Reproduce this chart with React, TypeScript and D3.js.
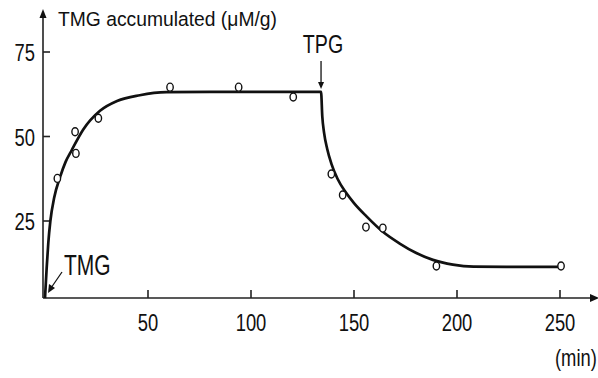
import React from "react";
import * as d3 from "d3";

// observed points (min, µM/g)
const obsTime = [6, 14.6, 15, 25.9, 60.7, 94, 120.5, 139, 144.5, 155.8, 164, 190, 250.5];
const obsValue = [37.6, 51.4, 45, 55.4, 64.6, 64.6, 61.7, 38.9, 32.7, 23.2, 22.9, 11.7, 11.7];

// fitted curve
const fitTime = [0, 0.8, 1.6, 2.6, 4.5, 7.3, 10, 13, 18.5, 26.7, 35, 46, 59, 80, 110, 134,
  134.6, 135.5, 137, 139, 142, 146, 150, 156.2, 164, 172, 180, 188.3, 198, 208, 230, 250];
const fitValue = [2.2, 11, 18.5, 25, 32, 38, 42.5, 46, 52, 57.6, 60.5, 62.2, 63.1, 63.2, 63.2, 63.2,
  56, 51, 46.3, 42, 37.5, 33.5, 30.3, 26.3, 21.8, 18.4, 15.6, 13.5, 12.1, 11.5, 11.4, 11.4];

const xTicks = [50, 100, 150, 200, 250];
const yTicks = [25, 50, 75];
const yTitle = "TMG accumulated (μM/g)";
const xUnit = "(min)";
const tpgTime = 134;
const baseValue = 2.2;

const W = 598, H = 378;
const font = "'Liberation Sans', Arial, Helvetica, sans-serif";

function Label({ x, y, fs, sx = 1, anchor = "start", children }: any) {
  return (
    <text transform={`translate(${x},${y}) scale(${sx},1)`} fontSize={fs} textAnchor={anchor}
      fontFamily={font} fill="#111">{children}</text>
  );
}

export default function App() {
  const x = d3.scaleLinear().domain([0, 250]).range([45, 560]);
  const y = d3.scaleLinear().domain([0, 75]).range([305.5, 52]);
  const x0 = x(0) - 2, y0 = y(baseValue);

  const fit = fitTime.map((t, i) => [t, fitValue[i]] as [number, number]);
  const line = d3.line<[number, number]>().x(d => x(d[0])).y(d => y(d[1])).curve(d3.curveMonotoneX);

  const tpgX = x(tpgTime);
  const tpgY = y(63.2);

  return (
    <svg width={W} height={H} style={{ position: "absolute", left: 0, top: 0, background: "#fff" }}>
      {/* axes */}
      <g stroke="#222" strokeWidth={1.6} fill="none">
        <line x1={x0} y1={y0} x2={x0} y2={14} />
        <line x1={x0} y1={y0} x2={592} y2={y0} />
        {yTicks.map(v => <line key={v} x1={x0} x2={x0 + 7} y1={y(v)} y2={y(v)} />)}
        {xTicks.map(v => <line key={v} x1={x(v)} x2={x(v)} y1={y0} y2={y0 - 8} />)}
      </g>
      <path d={`M${x0},9 L${x0 - 3.5},18 L${x0 + 3.5},18 Z`} fill="#111" />
      <path d={`M599,${y0} L590,${y0 - 4} L590,${y0 + 4} Z`} fill="#111" />

      {yTicks.map(v => <Label key={v} x={35} y={y(v) + 9} fs={23} sx={0.8} anchor="end">{v}</Label>)}
      {xTicks.map(v => <Label key={v} x={x(v)} y={331} fs={23} sx={0.8} anchor="middle">{v}</Label>)}
      <Label x={58} y={26} fs={19.3}>{yTitle}</Label>
      <Label x={555} y={366} fs={23} sx={0.8}>{xUnit}</Label>

      {/* fitted curve */}
      <path d={line(fit) ?? ""} fill="none" stroke="#111" strokeWidth={2.7} strokeLinejoin="round" />

      {/* data points */}
      {obsTime.map((t, i) => (
        <ellipse key={i} cx={x(t)} cy={y(obsValue[i])} rx={3.2} ry={4}
          fill="#fff" stroke="#111" strokeWidth={1.4} />
      ))}

      {/* TPG annotation */}
      <Label x={tpgX + 2} y={53} fs={25.5} sx={0.77} anchor="middle">TPG</Label>
      <line x1={tpgX} x2={tpgX} y1={61} y2={tpgY - 6} stroke="#111" strokeWidth={1.3} />
      <path d={`M${tpgX},${tpgY - 3} L${tpgX - 3},${tpgY - 10} L${tpgX + 3},${tpgY - 10} Z`} fill="#111" />

      {/* TMG annotation */}
      <Label x={64} y={275} fs={30} sx={0.7}>TMG</Label>
      <line x1={62} y1={272} x2={51} y2={288} stroke="#111" strokeWidth={1.3} />
      <path d="M48,293 L49,284 L55,288 Z" fill="#111" />
    </svg>
  );
}
